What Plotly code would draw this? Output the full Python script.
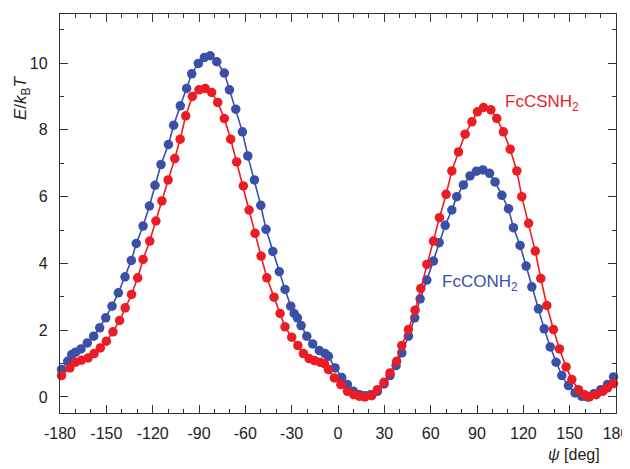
import plotly.graph_objects as go

# FcCONH2 (blue)
psi_conh2 = [-179, -175.0, -172.4, -169.9, -166.4, -162.3, -158.2, -154.3, -150.4, -146.3,
             -142.2, -137.9, -133.8, -130.6, -126.2, -122.1, -118.5, -114.6, -109.8, -106.4,
             -102.1, -98.0, -94.7, -90.4, -86.5, -82.8, -78.5, -73.6, -70.3, -66.2,
             -61.9, -58.4, -54.1, -50.0, -46.6, -42.2, -38.0, -34.3, -30.6, -28.4,
             -26.3, -23.9, -20.2, -16.4, -12.1, -8.4, -6.2, -1.9, 2.4, 6.1,
             10.0, 13.9, 17.5, 21.2, 25.5, 29.8, 33.7, 37.6, 41.3, 45.6,
             49.7, 53.2, 57.5, 61.8, 65.5, 69.4, 73.7, 76.9, 81.2, 85.5,
             89.6, 93.8, 98.1, 101.7, 106.1, 110.4, 113.6, 117.9, 121.8, 125.5,
             129.8, 133.5, 137.4, 141.2, 144.9, 149.2, 153.5, 157.9, 161.5, 165.8,
             170.2, 174.5, 178.4]
e_conh2 = [0.82, 1.07, 1.27, 1.34, 1.44, 1.62, 1.82, 2.07, 2.37, 2.72,
           3.12, 3.60, 4.09, 4.60, 5.12, 5.72, 6.34, 6.96, 7.56, 8.14,
           8.72, 9.24, 9.68, 9.99, 10.17, 10.22, 10.04, 9.70, 9.20, 8.62,
           7.94, 7.22, 6.50, 5.74, 5.02, 4.36, 3.75, 3.22, 2.72, 2.50,
           2.37, 2.14, 1.82, 1.59, 1.39, 1.30, 1.22, 0.87, 0.58, 0.37,
           0.17, 0.07, 0.04, 0.07, 0.17, 0.39, 0.64, 0.94, 1.32, 1.82,
           2.37, 2.94, 3.50, 4.07, 4.62, 5.14, 5.60, 6.00, 6.35, 6.62,
           6.76, 6.80, 6.70, 6.44, 6.04, 5.64, 5.07, 4.54, 3.92, 3.30,
           2.64, 2.04, 1.50, 1.04, 0.64, 0.34, 0.12, 0.02, 0.0, 0.10,
           0.22, 0.37, 0.60]

# FcCSNH2 (red)
psi_csnh2 = [-179, -173.6, -169.9, -166.1, -161.8, -157.9, -153.9, -150.0, -145.7, -141.4,
             -137.8, -133.7, -129.7, -126.2, -121.9, -117.9, -114.0, -110.0, -105.7, -102.2,
             -98.6, -94.3, -90.0, -86.0, -81.8, -77.9, -73.6, -69.5, -65.6, -61.3,
             -57.6, -53.7, -49.8, -46.1, -41.4, -37.5, -34.3, -30.0, -26.0, -22.4,
             -18.7, -15.3, -11.6, -8.8, -6.2, -2.3, 1.8, 6.1, 10.2, 13.9,
             17.5, 21.8, 25.5, 29.8, 33.7, 38.0, 41.3, 45.6, 49.9, 53.6,
             57.5, 61.8, 65.7, 70.0, 73.7, 78.0, 82.3, 86.7, 90.3, 94.2,
             99.0, 102.8, 107.1, 111.5, 115.8, 119.0, 123.4, 127.7, 131.3, 135.2,
             139.5, 143.4, 147.7, 151.4, 155.7, 159.6, 162.8, 167.2, 171.5, 174.5,
             178.4]
e_csnh2 = [0.64, 0.87, 1.04, 1.10, 1.17, 1.30, 1.47, 1.67, 1.95, 2.29,
           2.67, 3.07, 3.57, 4.12, 4.67, 5.27, 5.87, 6.50, 7.14, 7.72,
           8.42, 9.00, 9.20, 9.24, 9.12, 8.82, 8.34, 7.72, 7.04, 6.32,
           5.60, 4.90, 4.22, 3.57, 2.99, 2.50, 2.10, 1.79, 1.54, 1.30,
           1.15, 1.09, 1.04, 1.00, 0.82, 0.57, 0.37, 0.17, 0.07, 0.02,
           0.0, 0.04, 0.22, 0.44, 0.72, 1.07, 1.54, 2.02, 2.60, 3.25,
           3.97, 4.67, 5.37, 6.07, 6.77, 7.34, 7.87, 8.24, 8.54, 8.67,
           8.60, 8.34, 7.94, 7.42, 6.77, 6.00, 5.20, 4.37, 3.55, 2.74,
           2.02, 1.44, 0.90, 0.52, 0.22, 0.07, 0.0, 0.07, 0.17, 0.27,
           0.40]

x_ticks = [-180, -150, -120, -90, -60, -30, 0, 30, 60, 90, 120, 150, 180]
x_tick_labels = ["-180", "-150", "-120", "-90", "-60", "-30", "0", "30", "60", "90", "120", "150", "180"]
y_ticks = [0, 2, 4, 6, 8, 10]
y_tick_labels = ["0", "2", "4", "6", "8", "10"]

BLUE = "#3a4fa8"
RED = "#ec1c24"
FONT = "Liberation Sans, Arial, sans-serif"

fig = go.Figure()
fig.add_trace(go.Scatter(x=psi_conh2, y=e_conh2, mode="lines+markers",
                         line=dict(color=BLUE, width=1.6),
                         marker=dict(color=BLUE, size=9.5, line=dict(width=0)),
                         name="FcCONH2", showlegend=False, cliponaxis=False))
fig.add_trace(go.Scatter(x=psi_csnh2, y=e_csnh2, mode="lines+markers",
                         line=dict(color=RED, width=1.6),
                         marker=dict(color=RED, size=9.5, line=dict(width=0)),
                         name="FcCSNH2", showlegend=False, cliponaxis=False))

axis_common = dict(showline=True, linecolor="#333333", linewidth=1.3, mirror="allticks",
                   ticks="inside", tickcolor="#333333", tickwidth=1.3, ticklen=8,
                   showgrid=False, zeroline=False, automargin=False,
                   tickfont=dict(family=FONT, size=16, color="#222222"))

fig.update_xaxes(range=[-180, 180], tickmode="array", tickvals=x_ticks, ticktext=x_tick_labels,
                 minor=dict(ticks="inside", dtick=10, tick0=0, ticklen=4, tickcolor="#333333", tickwidth=1.2),
                 ticklabelstandoff=6, **axis_common)
fig.update_yaxes(range=[-0.48, 11.47], tickmode="array", tickvals=y_ticks, ticktext=y_tick_labels,
                 minor=dict(ticks="inside", dtick=1, tick0=0, ticklen=4, tickcolor="#333333", tickwidth=1.2),
                 ticklabelstandoff=8, **axis_common)

fig.add_annotation(text="FcCSNH<sub>2</sub>", x=107, y=8.8, xanchor="left", yanchor="middle",
                   showarrow=False, font=dict(family=FONT, size=17, color=RED))
fig.add_annotation(text="FcCONH<sub>2</sub>", x=66, y=3.4, xanchor="left", yanchor="middle",
                   showarrow=False, font=dict(family=FONT, size=17, color=BLUE))
fig.add_annotation(text="<i>E</i>/<i>k</i><sub>B</sub><i>T</i>", xref="paper", yref="paper",
                   x=-0.068, y=0.79, xanchor="center", yanchor="middle", textangle=-90,
                   showarrow=False, font=dict(family=FONT, size=17, color="#222222"))
fig.add_annotation(text="<i>ψ</i> [deg]", xref="paper", yref="paper",
                   x=0.925, y=-0.105, xanchor="center", yanchor="middle",
                   showarrow=False, font=dict(family=FONT, size=16, color="#222222"))

# The page body has an 8px margin, so the figure is sized and offset to land on the 630x469 frame.
fig.update_layout(width=622, height=461, margin=dict(l=52, r=14, t=6, b=56),
                  plot_bgcolor="white", paper_bgcolor="white")

fig.write_html("out.html")
